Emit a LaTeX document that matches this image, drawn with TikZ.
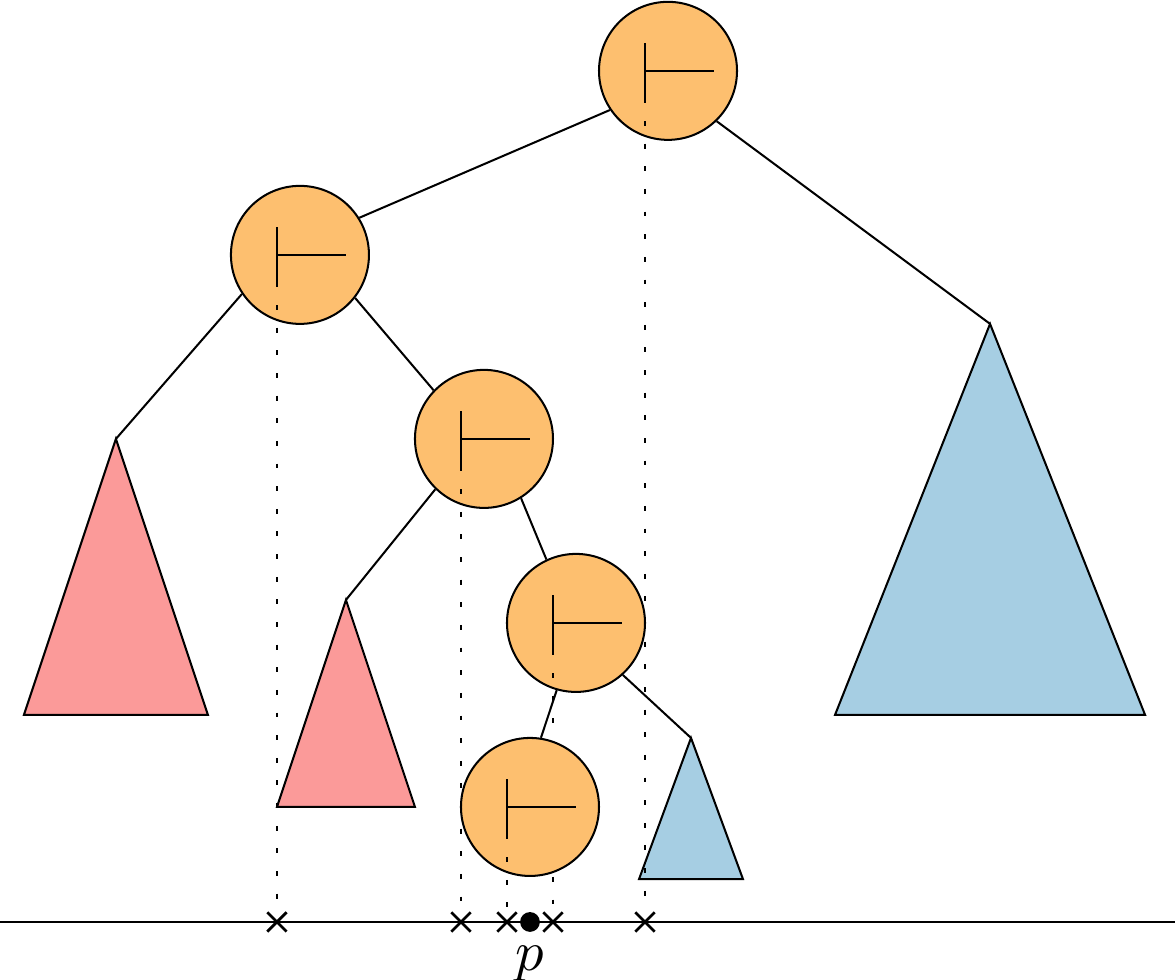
\documentclass[tikz,border=0pt]{standalone}
\usepackage{amsmath,amssymb}
\usepackage{tikz}
\usetikzlibrary{arrows.meta,positioning,calc,shapes.misc}
\definecolor{lightorange}{HTML}{FDBF6F}
\definecolor{lightred}{HTML}{FB9A99}
\definecolor{lightblue}{HTML}{A6CEE3}

\begin{document}
\begin{tikzpicture}[line width=1.25pt,
    split/.style={circle, draw, fill=lightorange, minimum size=3cm, inner sep=0pt},
    hit/.style={cross out, draw, minimum size=0.36cm, inner sep=0pt, line width=1.7pt},
    proj/.style={dash pattern=on 3pt off 11pt}]
    \useasboundingbox (-11.52,-1.26) rectangle (14.02,20.04);
    \draw (-11.52,0) -- (14.02,0);
    \coordinate (ta) at (-9,10.5);
    \coordinate (tb) at (-4,7);
    \coordinate (tc) at (3.5,4);
    \coordinate (td) at (10,13);
    \draw[fill=lightred] (ta) -- ++(-2,-6) -- ++(4,0) -- cycle;
    \draw[fill=lightred] (tb) -- ++(-1.5,-4.5) -- ++(3,0) -- cycle;
    \draw[fill=lightblue] (tc) -- ++(-1.13,-3.07) -- ++(2.26,0) -- cycle;
    \draw[fill=lightblue] (td) -- ++(-3.37,-8.5) -- ++(6.74,0) -- cycle;
    \foreach \n/\x/\y in {r/3/18.5, a/-5/14.5, b/-1/10.5, c/1/6.5, d/0/2.5} {
        \node[split] (\n) at (\x,\y) {};
        \draw (\x-0.5,\y+0.6) -- (\x-0.5,\y-0.6) (\x-0.5,\y) -- (\x+1,\y);
        \node[hit] (x\n) at (\x-0.5,0) {};
        \draw[proj] (\x-0.5,\y-0.6) -- (x\n);
    }
    \draw (r.214) -- (a.32);
    \draw (r.314) -- (td);
    \draw (a.214) -- (ta);
    \draw (a.322) -- (b.136);
    \draw (b.226) -- (tb);
    \draw (b.302) -- (c.115);
    \draw (c.254) -- (d.81);
    \draw (c.312) -- (tc);
    \node[circle, fill, minimum size=0.43cm, inner sep=0pt] (p) at (0,0) {};
    \node[below=0.22cm of p, inner sep=0pt, scale=3.5] (plabel) {$p$};
\end{tikzpicture}
\end{document}
